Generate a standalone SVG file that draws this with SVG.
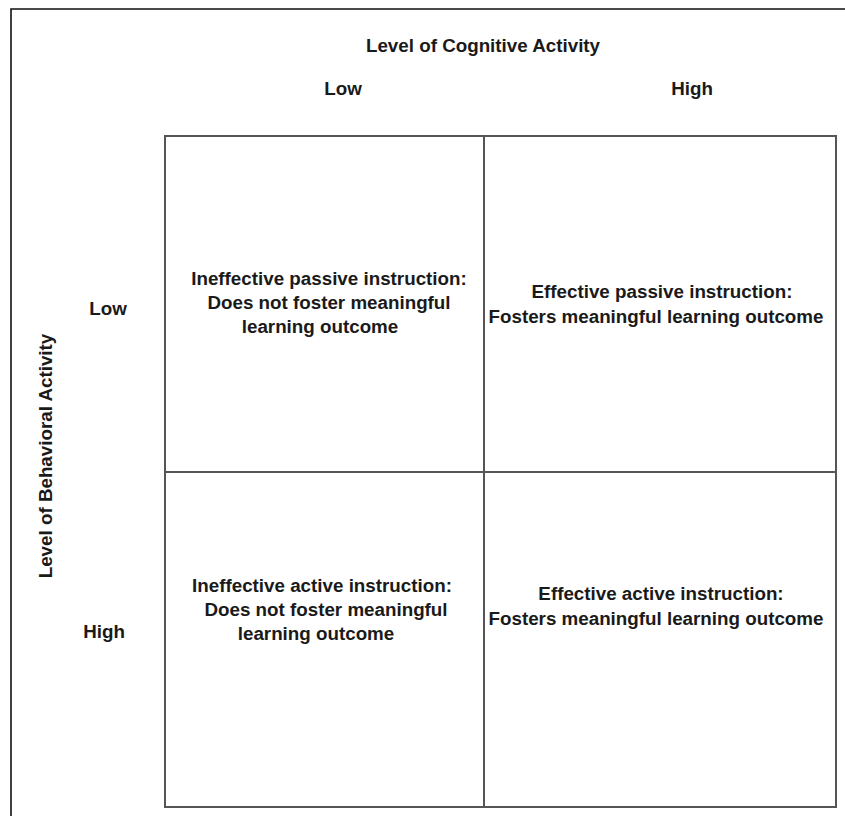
<svg xmlns="http://www.w3.org/2000/svg" width="845" height="816" viewBox="0 0 845 816">
<style>
text{font-family:"Liberation Sans",Arial,sans-serif;font-weight:bold;font-size:18.8px;fill:#1a1a1a;text-anchor:middle}
.cell{fill:#fff;stroke:#555;stroke-width:2}
</style>
<rect width="845" height="816" fill="#fff"/>
<path d="M11,816 V9 H845" fill="none" stroke="#111" stroke-width="1.6"/>
<g id="labels">
<text x="483" y="52">Level of Cognitive Activity</text>
<text x="343" y="95">Low</text>
<text x="692" y="95">High</text>
<text x="108" y="315">Low</text>
<text x="104" y="638">High</text>
<text transform="translate(52,456) rotate(-90)">Level of Behavioral Activity</text>
</g>
<g id="cell-low-low">
<rect class="cell" x="165" y="136" width="319" height="336"/>
<text x="329" y="285">Ineffective passive instruction:</text>
<text x="329" y="309">Does not foster meaningful</text>
<text x="320" y="333">learning outcome</text>
</g>
<g id="cell-low-high">
<rect class="cell" x="484" y="136" width="352" height="336"/>
<text x="662" y="298">Effective passive instruction:</text>
<text x="656" y="323">Fosters meaningful learning outcome</text>
</g>
<g id="cell-high-low">
<rect class="cell" x="165" y="472" width="319" height="335"/>
<text x="322" y="592">Ineffective active instruction:</text>
<text x="326" y="616">Does not foster meaningful</text>
<text x="316" y="640">learning outcome</text>
</g>
<g id="cell-high-high">
<rect class="cell" x="484" y="472" width="352" height="335"/>
<text x="661" y="600">Effective active instruction:</text>
<text x="656" y="625">Fosters meaningful learning outcome</text>
</g>
<g id="connectors"/>
</svg>
